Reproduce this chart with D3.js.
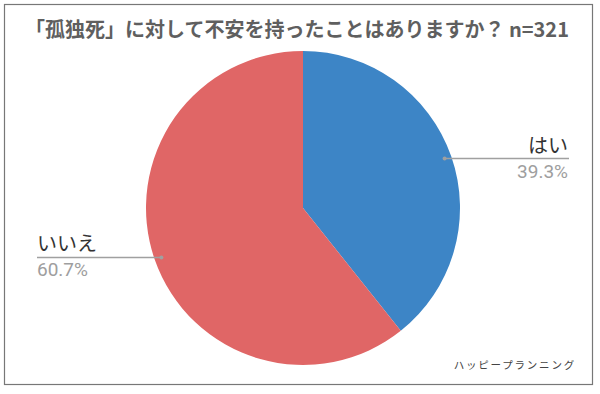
<!DOCTYPE html>
<html><head><meta charset="utf-8">
<script src="https://cdn.jsdelivr.net/npm/d3@7"></script>
<style>body{margin:0;background:#fff}</style>
</head><body><svg id="c" width="600" height="394"></svg>
<script>
const title = "「孤独死」に対して不安を持ったことはありますか？ n=321";
const categories = ["はい", "いいえ"];
const values = [39.3, 60.7];
const colors = ["#3d85c6", "#e06666"];
const watermark = "ハッピープランニング";

const svg = d3.select("#c");
svg.append("rect").attr("x", 4.5).attr("y", 4.5).attr("width", 588).attr("height", 380)
  .attr("fill", "#fff").attr("stroke", "#777").attr("stroke-width", 1.2);

svg.append("text").attr("x", 25).attr("y", 37).text(title)
  .attr("font-family", "Noto Sans CJK JP").attr("font-size", 20).attr("font-weight", 700)
  .attr("fill", "#5f5f5f");

const cx = 303, cy = 208, R = 157;
const pie = d3.pie().sort(null).value(d => d)(values);
const arc = d3.arc().innerRadius(0).outerRadius(R);
const g = svg.append("g").attr("transform", `translate(${cx},${cy})`);
g.selectAll("path").data(pie).join("path").attr("d", arc)
  .attr("fill", (d, i) => colors[i]);

const pt = d3.arc().innerRadius(150).outerRadius(150);
pie.forEach((d, i) => {
  const [px, py] = pt.centroid(d);
  const x = cx + px, y = cy + py;
  const right = px > 0;
  const x2 = right ? 569 : 37;
  svg.append("line").attr("x1", x).attr("y1", y).attr("x2", x2).attr("y2", y)
    .attr("stroke", "#a0a0a0").attr("stroke-width", 1.3);
  svg.append("circle").attr("cx", x).attr("cy", y).attr("r", 2).attr("fill", "#a0a0a0");
  const anchor = right ? "end" : "start";
  svg.append("text").attr("x", right ? x2 - 1 : x2).attr("y", y - 6).attr("text-anchor", anchor)
    .attr("font-family", "Noto Sans CJK JP").attr("font-size", 20).attr("fill", "#333")
    .text(categories[i]);
  svg.append("text").attr("x", right ? x2 - 1 : x2).attr("y", y + 19).attr("text-anchor", anchor)
    .attr("font-family", "Roboto, Arial").attr("font-size", 19).attr("fill", "#9e9e9e")
    .text(values[i].toFixed(1) + "%");
});

svg.append("text").attr("x", 576).attr("y", 369).attr("text-anchor", "end")
  .attr("font-family", "Noto Sans CJK JP").attr("font-size", 10.5).attr("letter-spacing", 1.8)
  .attr("fill", "#444").text(watermark);
</script></body></html>
